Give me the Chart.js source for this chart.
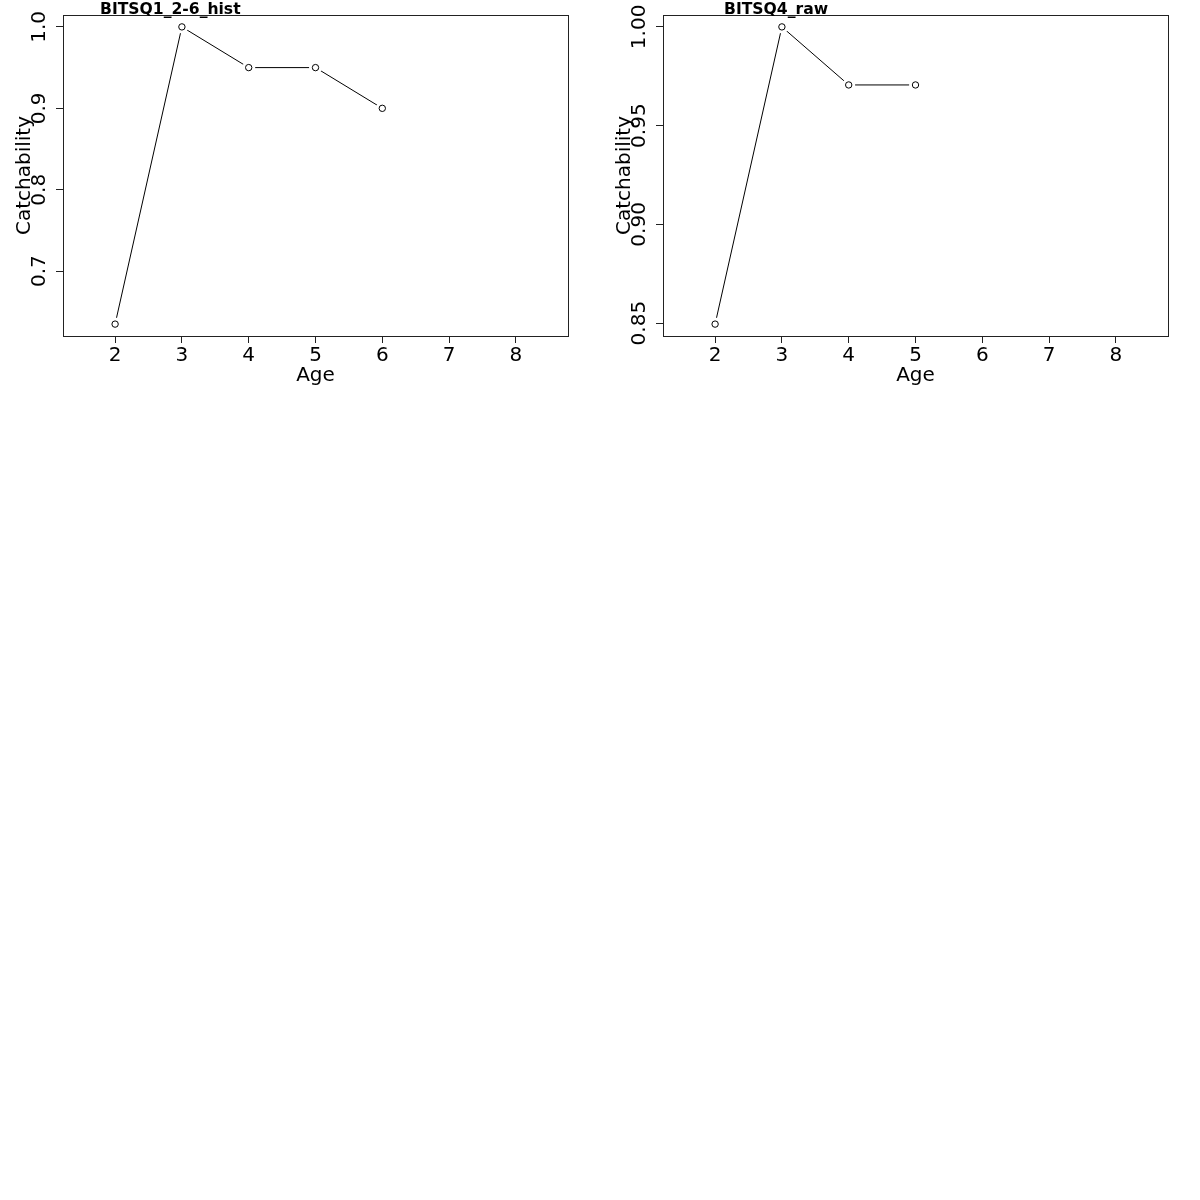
<!DOCTYPE html>
<html>
<head>
<meta charset="utf-8">
<script src="https://cdn.jsdelivr.net/npm/chart.js@4/dist/chart.umd.min.js"></script>
<style>
  html, body { margin: 0; padding: 0; background: #fff; }
  #wrap { position: relative; width: 1200px; height: 1200px; background: #fff; }
  canvas { position: absolute; top: 0; }
</style>
</head>
<body>
<div id="wrap">
  <canvas id="q1" width="600" height="400" style="left:0px"></canvas>
  <canvas id="q4" width="600" height="400" style="left:600px"></canvas>
</div>
<script>
// Catchability by age for two survey indices
const ages1 = [2, 3, 4, 5, 6];
const catch1 = [0.635, 1.0, 0.95, 0.95, 0.90];
const yTicks1 = [0.7, 0.8, 0.9, 1.0];
const yLabels1 = ['0.7', '0.8', '0.9', '1.0'];

const ages2 = [2, 3, 4, 5];
const catch2 = [0.8495, 1.0, 0.9706, 0.9706];
const yTicks2 = [0.85, 0.90, 0.95, 1.00];
const yLabels2 = ['0.85', '0.90', '0.95', '1.00'];

const xTicks = [2, 3, 4, 5, 6, 7, 8];
const xLabel = 'Age';
const yLabel = 'Catchability';
const titles = ['BITSQ1_2-6_hist', 'BITSQ4_raw'];

const FONT = '"DejaVu Sans", sans-serif';
const LABEL_SIZE = 20;

// R-style axis limits: range padded by 4% on each side
function padded(lo, hi) {
  const d = (hi - lo) * 0.04;
  return [lo - d, hi + d];
}

// Frame, rotated y tick labels, axis titles and main title
const decor = {
  id: 'decor',
  afterDraw(chart, args, opts) {
    const { ctx, chartArea: a, scales } = chart;
    ctx.save();
    ctx.strokeStyle = '#222';
    ctx.lineWidth = 1;
    ctx.strokeRect(Math.round(a.left) + 0.5, Math.round(a.top) + 0.5,
                   Math.round(a.right - a.left), Math.round(a.bottom - a.top));
    ctx.fillStyle = '#000';
    // y tick labels, parallel to the axis
    ctx.font = LABEL_SIZE + 'px ' + FONT;
    ctx.textAlign = 'center';
    ctx.textBaseline = 'alphabetic';
    opts.yTicks.forEach((v, i) => {
      const y = scales.y.getPixelForValue(v);
      ctx.save();
      ctx.translate(45, y);
      ctx.rotate(-Math.PI / 2);
      ctx.fillText(opts.yLabels[i], 0, 0);
      ctx.restore();
    });
    // y axis title
    ctx.save();
    ctx.translate(30, (a.top + a.bottom) / 2);
    ctx.rotate(-Math.PI / 2);
    ctx.fillText(yLabel, 0, 0);
    ctx.restore();
    // x axis title
    ctx.fillText(xLabel, (a.left + a.right) / 2, 381);
    // main title
    ctx.font = 'bold 15.6px ' + FONT;
    ctx.textAlign = 'left';
    ctx.fillText(opts.title, opts.titleX, 14);
    ctx.restore();
  }
};

function makeChart(id, ages, values, yTicks, yLabels, title, titleX) {
  const pts = ages.map((a, i) => ({ x: a, y: values[i] }));
  const [ymin, ymax] = padded(Math.min(...values), Math.max(...values));
  const [xmin, xmax] = padded(1.5, 8.5);
  return new Chart(document.getElementById(id), {
    type: 'line',
    data: {
      datasets: [
        { // open circle markers
          data: pts,
          showLine: false,
          pointRadius: 3.2,
          pointBorderWidth: 1,
          pointBorderColor: '#000',
          pointBackgroundColor: 'rgba(0,0,0,0)'
        },
        { // connecting line, broken around each marker
          data: pts,
          borderColor: '#000',
          borderWidth: 1,
          tension: 0,
          pointRadius: 6.5,
          pointBorderWidth: 0,
          pointBackgroundColor: '#fff'
        }
      ]
    },
    options: {
      responsive: false,
      animation: false,
      devicePixelRatio: 1,
      layout: { padding: { left: 0, right: 32, top: 15, bottom: 0 } },
      plugins: {
        legend: { display: false },
        tooltip: { enabled: false },
        decor: { yTicks, yLabels, title, titleX }
      },
      scales: {
        x: {
          type: 'linear',
          min: xmin, max: xmax,
          afterBuildTicks: s => { s.ticks = xTicks.map(v => ({ value: v })); },
          afterFit: s => { s.height = 64; },
          border: { display: false },
          grid: { drawOnChartArea: false, drawTicks: true, tickLength: 7, color: '#222' },
          ticks: { color: '#000', font: { family: FONT, size: LABEL_SIZE }, padding: 1, maxRotation: 0,
                   callback: v => String(v) }
        },
        y: {
          type: 'linear',
          min: ymin, max: ymax,
          afterBuildTicks: s => { s.ticks = yTicks.map(v => ({ value: v })); },
          afterFit: s => { s.width = 63; },
          border: { display: false },
          grid: { drawOnChartArea: false, drawTicks: true, tickLength: 7, color: '#222' },
          ticks: { display: false }
        }
      }
    },
    plugins: [decor]
  });
}

makeChart('q1', ages1, catch1, yTicks1, yLabels1, titles[0], 100);
makeChart('q4', ages2, catch2, yTicks2, yLabels2, titles[1], 124);
</script>
</body>
</html>
